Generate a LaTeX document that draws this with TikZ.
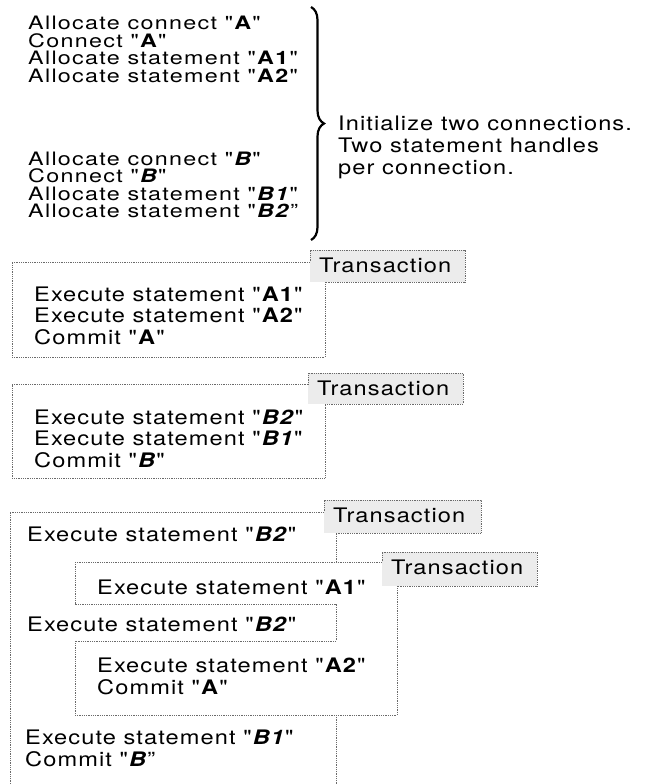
\documentclass[tikz,border=0pt]{standalone}
\usepackage{fontspec}
\setmainfont{TeX Gyre Heros}[Ligatures=TeXOff, FakeStretch=1.18, LetterSpace=5.5]
\newfontfamily\setupfont{TeX Gyre Heros}[Ligatures=TeXOff, FakeStretch=1.26, LetterSpace=7]
\usetikzlibrary{decorations.pathreplacing}
\definecolor{labelgray}{HTML}{ECECEC}
\definecolor{framegray}{HTML}{6A6A6A}
\newcommand{\qb}[1]{"\textbf{#1}"}
\newcommand{\qbi}[1]{"\textbf{\textit{#1}}"}
\begin{document}
\begin{tikzpicture}[x=1pt, y=-1pt,
  txt/.style={anchor=base west, inner sep=0pt, font=\fontsize{20}{24}\selectfont},
  setup/.style={anchor=north west, inner sep=0pt, align=left,
    font={\setupfont\fontsize{18.5}{17.5}\selectfont\lineskiplimit=-20pt}},
  tframe/.style={draw=framegray, line width=0.9pt, dash pattern=on 0.9pt off 0.9pt},
  tfill/.style={fill=labelgray}]
\useasboundingbox (0,0) rectangle (647,784);

% ---- setup statements (first baselines at 29.5 and 165) ----
\node[setup] (sa) at (28,16) {Allocate connect \qb{A}\\
  Connect \qb{A}\\
  Allocate statement \qb{A1}\\
  Allocate statement \qb{A2}};
\node[setup] (sb) at (28,151.5) {Allocate connect \qbi{B}\\
  Connect \qbi{B}\\
  Allocate statement \qbi{B1}\\
  Allocate statement "\textbf{\textit{B2}}”};

\coordinate (bracetop) at (311,7);
\coordinate (bracebot) at (311,240);
\draw[decorate, decoration={brace, amplitude=13pt}, line width=2.2pt] (bracetop) -- (bracebot);

\node[txt] (n1) at (338,130) {Initialize two connections.};
\node[txt] (n2) at (338,152) {Two statement handles};
\node[txt] (n3) at (338,174) {per connection.};

% ---- first transaction ----
\fill[tfill] (310,250) rectangle (465,282);
\draw[tframe] (12,262) -- (310,262) -- (310,250) -- (465,250) -- (465,282)
  -- (325,282) -- (325,357) -- (12,357) -- cycle;
\node[txt] (t1) at (319,272) {Transaction};
\node[txt] (x11) at (34,301)   {Execute statement \qb{A1}};
\node[txt] (x12) at (34,322.5) {Execute statement \qb{A2}};
\node[txt] (x13) at (34,344)   {Commit \qb{A}};

% ---- second transaction ----
\fill[tfill] (308,373) rectangle (463,404);
\draw[tframe] (12,384) -- (308,384) -- (308,373) -- (463,373) -- (463,404)
  -- (325,404) -- (325,478) -- (12,478) -- cycle;
\node[txt] (t2) at (317,395) {Transaction};
\node[txt] (x21) at (34,424)   {Execute statement \qbi{B2}};
\node[txt] (x22) at (34,445.5) {Execute statement \qbi{B1}};
\node[txt] (x23) at (34,467)   {Commit \qbi{B}};

% ---- interleaved transactions ----
\fill[tfill] (324,500) rectangle (481,533);
\fill[tfill] (382,552) rectangle (537,586);
% outer transaction on connection B
\draw[tframe] (336,562) -- (336,533) -- (481,533) -- (481,500) -- (324,500)
  -- (324,512) -- (10,512) -- (10,784);
\draw[tframe] (336,715) -- (336,784);
% inner transaction on connection A
\draw[tframe] (75,562) -- (382,562) -- (382,552) -- (537,552) -- (537,586)
  -- (397,586) -- (397,715) -- (75,715) -- (75,641) -- (336,641)
  -- (336,604) -- (75,604) -- cycle;
\node[txt] (t3) at (333,522) {Transaction};
\node[txt] (t4) at (391,574) {Transaction};
\node[txt] (x31) at (27,541) {Execute statement \qbi{B2}};
\node[txt] (x32) at (97,594) {Execute statement \qb{A1}};
\node[txt] (x33) at (27,631) {Execute statement \qbi{B2}};
\node[txt] (x34) at (97,672) {Execute statement \qb{A2}};
\node[txt] (x35) at (97,694) {Commit \qb{A}};
\node[txt] (x36) at (25,744) {Execute statement \qbi{B1}};
\node[txt] (x37) at (25,766) {Commit "\textbf{\textit{B}}”};
\end{tikzpicture}
\end{document}
